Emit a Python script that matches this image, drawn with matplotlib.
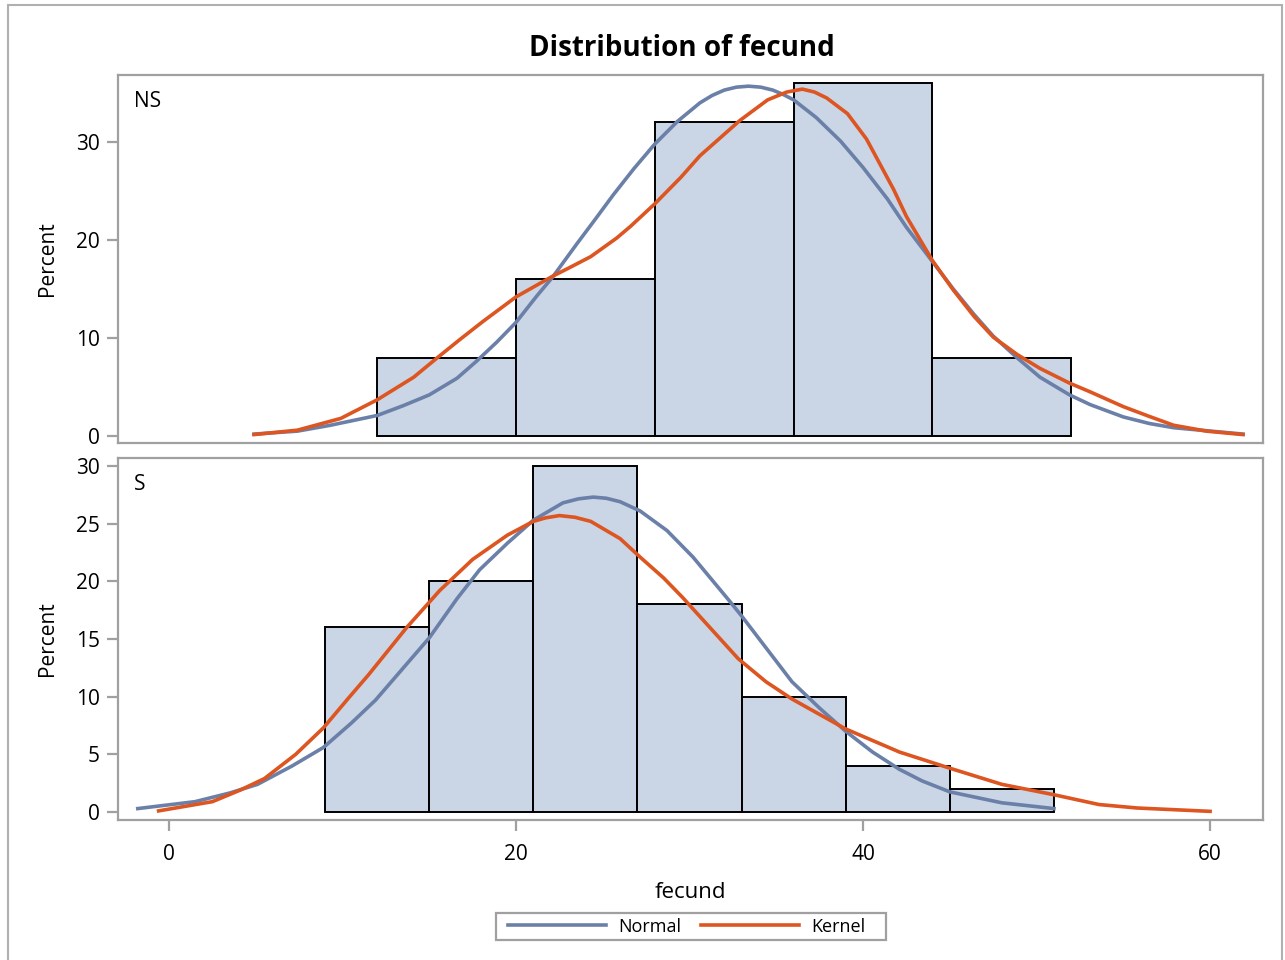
import numpy as np
import matplotlib
matplotlib.use("Agg")
import matplotlib.pyplot as plt
from matplotlib.patches import Rectangle

plt.rcParams['font.family'] = ['Open Sans', 'DejaVu Sans']

# histogram bins (left edge, width, percent)
ns_edges = [12, 20, 28, 36, 44]
ns_width = 8
ns_pct = [8, 16, 32, 36, 8]

s_edges = [9, 15, 21, 27, 33, 39, 45]
s_width = 6
s_pct = [16, 20, 30, 18, 10, 4, 2]

# curves
ns_normal_x = [4.9, 7.4, 9.3, 12.0, 13.5, 15.0, 16.6, 17.7, 18.9, 20.0, 21.2, 22.1,
               23.5, 24.6, 25.6, 26.8, 28.0, 29.3, 30.6, 31.3, 32.0, 32.7, 33.4,
               34.1, 34.8, 35.4, 36.0, 37.3, 38.7, 40.0, 41.4, 42.5, 44.0, 45.2,
               46.4, 47.5, 48.9, 50.2, 51.9, 53.1, 55.0, 56.5, 57.9, 61.9]
ns_normal_y = [0.2, 0.5, 1.1, 2.1, 3.1, 4.2, 5.9, 7.6, 9.6, 11.6, 14.3, 16.2,
               19.6, 22.2, 24.6, 27.3, 29.8, 32.1, 34.0, 34.75, 35.3, 35.6, 35.7,
               35.6, 35.3, 34.85, 34.3, 32.5, 30.1, 27.4, 24.2, 21.3, 17.8, 15.0,
               12.4, 10.2, 7.95, 6.0, 4.2, 3.2, 1.95, 1.28, 0.85, 0.2]

ns_kernel_x = [4.9, 7.4, 9.9, 12.0, 14.1, 15.4, 16.8, 18.1, 20.0, 22.1, 23.1, 24.3,
               25.8, 26.6, 28.0, 29.5, 30.6, 32.9, 34.5, 35.6, 36.5, 37.2, 37.9,
               39.1, 40.2, 41.75, 42.5, 44.0, 45.2, 46.4, 47.5, 48.9, 50.2, 51.9,
               53.1, 55.0, 56.5, 57.9, 59.8, 61.9]
ns_kernel_y = [0.15, 0.6, 1.8, 3.7, 6.0, 7.9, 9.9, 11.7, 14.2, 16.3, 17.2, 18.3,
               20.2, 21.4, 23.7, 26.4, 28.6, 32.2, 34.3, 35.1, 35.4, 35.1, 34.5,
               32.9, 30.3, 25.2, 22.4, 17.9, 14.9, 12.2, 10.1, 8.3, 6.9, 5.4,
               4.5, 3.0, 2.0, 1.1, 0.5, 0.15]

s_normal_x = [-1.8, 1.5, 3.5, 5.1, 7.1, 8.9, 10.5, 11.9, 13.45, 15.0, 16.6, 17.9,
              19.5, 21.0, 22.7, 23.6, 24.45, 25.2, 26.0, 27.15, 28.7, 30.2, 32.3,
              33.0, 35.9, 37.5, 39.0, 40.55, 42.1, 43.4, 45.0, 48.0, 51.0]
s_normal_y = [0.3, 0.9, 1.65, 2.4, 4.0, 5.6, 7.7, 9.7, 12.4, 15.1, 18.5, 21.0,
              23.3, 25.3, 26.8, 27.15, 27.3, 27.2, 26.9, 26.1, 24.4, 22.1, 18.3,
              17.0, 11.3, 9.0, 7.0, 5.2, 3.7, 2.7, 1.75, 0.8, 0.3]

s_kernel_x = [-0.6, 2.5, 4.1, 5.5, 7.3, 8.9, 10.3, 11.5, 13.7, 15.6, 17.5, 19.5,
              21.0, 21.7, 22.5, 23.4, 24.3, 26.0, 27.15, 28.5, 29.6, 32.8, 34.4,
              35.9, 39.0, 42.1, 45.0, 48.0, 51.0, 53.6, 55.8, 60.0]
s_kernel_y = [0.1, 0.9, 1.9, 2.9, 5.0, 7.3, 9.8, 11.9, 16.0, 19.2, 21.9, 24.0,
              25.2, 25.5, 25.7, 25.55, 25.2, 23.7, 22.1, 20.3, 18.6, 13.3, 11.3,
              9.8, 7.2, 5.2, 3.8, 2.4, 1.5, 0.65, 0.35, 0.06]

groups = ['NS', 'S']
x_ticks = [0, 20, 40, 60]

fill_c = '#CAD5E5'
normal_c = '#6B80A8'
kernel_c = '#DD5520'
frame_c = '#A0A0A0'

W, H = 1285, 960
fig = plt.figure(figsize=(W / 100, H / 100), dpi=100)

# outer frame
fig.patches.append(Rectangle((8 / W, -0.02), (1282 - 8) / W, 1.02 - 5 / H,
                             transform=fig.transFigure, fill=False,
                             edgecolor='#B0B0B0', linewidth=1.5))

left, right = 118 / W, 1263 / W
ax1 = fig.add_axes([left, 1 - 443 / H, right - left, (443 - 75) / H])
ax2 = fig.add_axes([left, 1 - 820 / H, right - left, (820 - 458) / H])

panels = [
    (ax1, ns_edges, ns_width, ns_pct, ns_normal_x, ns_normal_y, ns_kernel_x, ns_kernel_y,
     (-0.71, 36.84), [0, 10, 20, 30]),
    (ax2, s_edges, s_width, s_pct, s_normal_x, s_normal_y, s_kernel_x, s_kernel_y,
     (-0.69, 30.69), [0, 5, 10, 15, 20, 25, 30]),
]

for i, (ax, edges, width, pct, nx, ny, kx, ky, ylim, yt) in enumerate(panels):
    ax.bar(edges, pct, width=width, align='edge', color=fill_c,
           edgecolor='black', linewidth=1.4, zorder=2)
    ax.plot(nx, ny, color=normal_c, linewidth=2.6, zorder=3, label='Normal',
            solid_joinstyle='round')
    ax.plot(kx, ky, color=kernel_c, linewidth=2.6, zorder=4, label='Kernel',
            solid_joinstyle='round')
    ax.set_xlim(-2.94, 63.05)
    ax.set_ylim(*ylim)
    ax.set_yticks(yt)
    ax.set_xticks(x_ticks)
    for sp in ax.spines.values():
        sp.set_color(frame_c)
        sp.set_linewidth(1.6)
    ax.tick_params(axis='both', colors=frame_c, labelcolor='black', length=8,
                   width=1.6, labelsize=15)
    ax.tick_params(axis='y', pad=5)
    ax.tick_params(axis='x', pad=9)
    ax.set_ylabel('Percent', fontsize=15)
    ax.yaxis.set_label_coords(-0.052, 0.5)
    ax.text(0.014, 0.928, groups[i], transform=ax.transAxes, ha='left',
            va='center', fontsize=15)

ax1.tick_params(axis='x', bottom=False, labelbottom=False)
ax2.set_xlabel('fecund', fontsize=16)
ax2.xaxis.set_label_coords(0.5, -0.17)

fig.text(0.5 * (530 + 833) / W, 1 - 48 / H, 'Distribution of fecund',
         ha='center', va='center', fontsize=20, fontweight='bold')

handles, labels = ax2.get_legend_handles_labels()
leg = fig.legend(handles, labels, loc='center', bbox_to_anchor=(687 / W, 1 - 926.5 / H),
                 ncol=2, fontsize=13, frameon=False,
                 handlelength=5.4, handletextpad=0.7, columnspacing=1.1,
                 borderpad=0.25, borderaxespad=0)
fig.patches.append(Rectangle((496 / W, 1 - 940 / H), (886 - 496) / W, 27 / H,
                             transform=fig.transFigure, fill=False,
                             edgecolor=frame_c, linewidth=1.6))

fig.savefig('out.png', dpi=100)
